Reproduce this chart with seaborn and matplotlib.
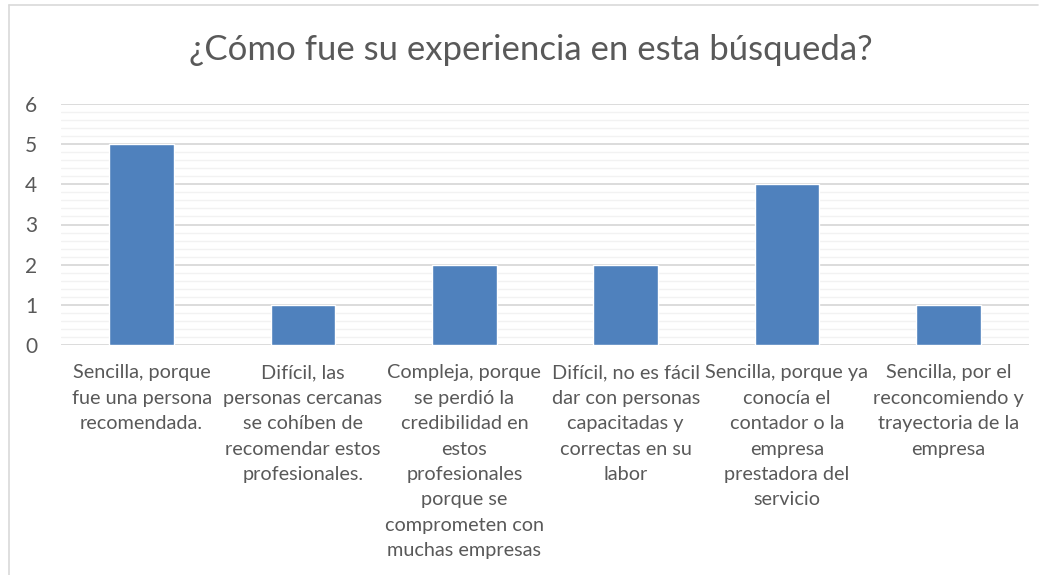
#!/usr/bin/env python3
# -*- coding: utf-8 -*-

import seaborn as sns
import pandas as pd
import matplotlib.pyplot as plt
import numpy as np
from matplotlib.lines import Line2D

# data
categorias = [
    "Sencilla, porque\nfue una persona\nrecomendada.",
    "Difícil, las\npersonas cercanas\nse cohíben de\nrecomendar estos\nprofesionales.",
    "Compleja, porque\nse perdió la\ncredibilidad en\nestos\nprofesionales\nporque se\ncomprometen con\nmuchas empresas",
    "Difícil, no es fácil\ndar con personas\ncapacitadas y\ncorrectas en su\nlabor",
    "Sencilla, porque ya\nconocía el\ncontador o la\nempresa\nprestadora del\nservicio",
    "Sencilla, por el\nreconcomiendo y\ntrayectoria de la\nempresa",
]
valores = [5, 1, 2, 2, 4, 1]
titulo = "¿Cómo fue su experiencia en esta búsqueda?"

sns.set_style("white")
plt.rcParams['font.family'] = ['Lato', 'DejaVu Sans']
gris = '#595959'

df = pd.DataFrame({'cat': categorias, 'val': valores})

fig = plt.figure(figsize=(10.47, 5.75), dpi=100)
ax = fig.add_axes([61/1047, 1-345/575, (1029-61)/1047, (345-104)/575])

sns.barplot(data=df, x='cat', y='val', color='#4F81BD', saturation=1, width=0.4, ax=ax, zorder=3)

ax.set_ylim(0, 6)
ax.set_yticks(np.arange(0, 7, 1))
ax.set_yticks(np.arange(0, 6.01, 0.2), minor=True)
ax.grid(axis='y', which='major', color='#D9D9D9', linewidth=1.3, zorder=0)
ax.grid(axis='y', which='minor', color='#F2F2F2', linewidth=1.0, zorder=0)
ax.set_axisbelow(True)
for s in ['top', 'right', 'left', 'bottom']:
    ax.spines[s].set_visible(False)
ax.tick_params(axis='both', which='both', length=0)
ax.tick_params(axis='y', labelsize=15, labelcolor=gris, pad=17)
ax.tick_params(axis='x', labelsize=14.3, labelcolor=gris, pad=14)
for lab in ax.get_xticklabels():
    lab.set_linespacing(1.6)
ax.set_xlabel('')
ax.set_ylabel('')

fig.text(531/1047, 1-50/575, titulo, ha='center', va='center', fontsize=25, color=gris)

# chart frame
fig.add_artist(Line2D([9/1047, 1038/1047], [1-5/575, 1-5/575], color='#D9D9D9', lw=1.2, transform=fig.transFigure))
fig.add_artist(Line2D([9/1047, 9/1047], [0, 1-5/575], color='#D9D9D9', lw=1.2, transform=fig.transFigure))

fig.savefig('out.png', dpi=100)
